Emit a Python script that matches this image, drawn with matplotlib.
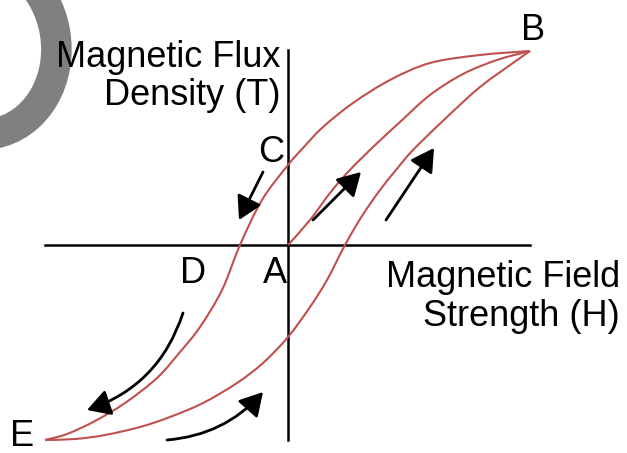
import matplotlib
matplotlib.use("Agg")
import matplotlib.pyplot as plt
from matplotlib.patches import Ellipse, FancyArrowPatch, PathPatch
from matplotlib.path import Path

plt.rcParams['font.family'] = ['Liberation Sans', 'DejaVu Sans']

# curve points (pixel coords, y down)
upper_x = [530, 480, 430, 390, 353, 323, 303, 288, 262, 240, 222, 200, 180, 157, 125, 95, 67, 45]
upper_y = [51, 55, 63, 80, 103, 127, 148, 165, 200, 245, 290, 327, 352, 378, 403, 421, 434, 440]

lower_x = [45, 75, 105, 140, 170, 203, 237, 263, 288, 310, 327, 345, 362, 380, 396, 413, 447, 480, 513, 530]
lower_y = [440, 439, 435, 427, 417, 403, 383, 363, 337, 307, 280, 245, 216, 190, 170, 150, 117, 87, 63, 51]

init_x = [288, 310, 330, 348, 372, 400, 430, 463, 497, 530]
init_y = [245, 220, 193, 172, 148, 122, 95, 74, 60, 51]

# point labels
labels = ['A', 'B', 'C', 'D', 'E']
label_x = [275, 533, 271, 193, 22]
label_y = [283, 40, 162, 283, 446]

# arrows: tail, tip, bend
arrow_tail = [(263, 172), (313, 220), (386, 220), (183, 313), (167, 440)]
arrow_tip = [(239, 220), (361, 172), (434, 148), (87, 410), (263, 392)]
arrow_rad = [0, 0, 0, -0.25, 0.2]

red = '#c0504d'


def smooth(xs, ys):
    # catmull-rom through the read points, drawn as bezier segments
    pts = list(zip(xs, ys))
    verts = [pts[0]]
    codes = [Path.MOVETO]
    n = len(pts)
    for i in range(n - 1):
        p0 = pts[max(i - 1, 0)]
        p1 = pts[i]
        p2 = pts[i + 1]
        p3 = pts[min(i + 2, n - 1)]
        c1 = (p1[0] + (p2[0] - p0[0]) / 6, p1[1] + (p2[1] - p0[1]) / 6)
        c2 = (p2[0] - (p3[0] - p1[0]) / 6, p2[1] - (p3[1] - p1[1]) / 6)
        verts += [c1, c2, p2]
        codes += [Path.CURVE4] * 3
    return Path(verts, codes)


fig = plt.figure(figsize=(6.27, 4.53), dpi=100)
ax = fig.add_axes([0, 0, 1, 1])
ax.set_xlim(0, 627)
ax.set_ylim(453, 0)
ax.axis('off')

# grey ring in the corner
ax.add_patch(Ellipse((-22, 45), 156, 180, angle=-10, fill=False,
                     ec='#808080', lw=22, zorder=0))

# axes
ax.plot([288, 288], [50, 440], color='black', lw=1.8, zorder=2)
ax.plot([45, 530], [245, 245], color='black', lw=1.8, zorder=2)

# hysteresis loop
for xs, ys in [(upper_x, upper_y), (lower_x, lower_y), (init_x, init_y)]:
    ax.add_patch(PathPatch(smooth(xs, ys), fill=False, ec=red, lw=1.5, zorder=3))

for t, x, y in zip(labels, label_x, label_y):
    ax.text(x, y, t, fontsize=26, ha='center', va='baseline', zorder=4)

ax.text(281, 67, 'Magnetic Flux', fontsize=26, ha='right', va='baseline', zorder=4)
ax.text(281, 105, 'Density (T)', fontsize=26, ha='right', va='baseline', zorder=4)
ax.text(620, 287, 'Magnetic Field', fontsize=26, ha='right', va='baseline', zorder=4)
ax.text(620, 326, 'Strength (H)', fontsize=26, ha='right', va='baseline', zorder=4)

for p0, p1, r in zip(arrow_tail, arrow_tip, arrow_rad):
    ax.add_patch(FancyArrowPatch(p0, p1, connectionstyle=f'arc3,rad={r}',
                                 arrowstyle='-|>,head_length=0.7,head_width=0.4',
                                 mutation_scale=20, color='black', lw=2,
                                 shrinkA=0, shrinkB=0, zorder=5))

fig.savefig('out.png', dpi=100)
